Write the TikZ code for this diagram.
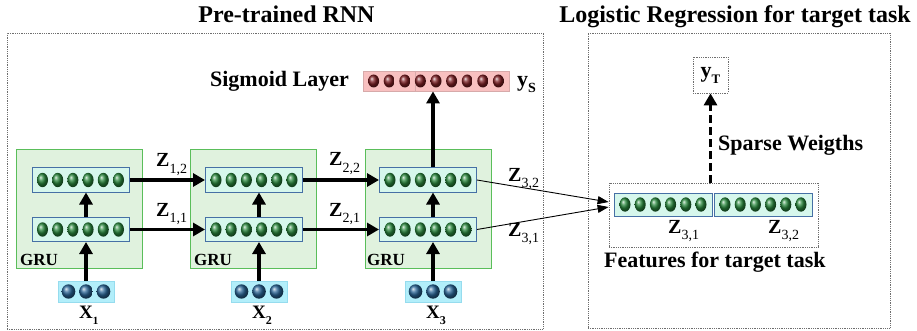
\documentclass[tikz,border=0pt]{standalone}
\usepackage{fontspec}
\setmainfont{Liberation Serif}
\usetikzlibrary{arrows.meta,calc}
\definecolor{grufill}{RGB}{224,242,222}
\definecolor{grudraw}{RGB}{90,190,90}
\definecolor{layfill}{RGB}{214,247,236}
\definecolor{laydraw}{RGB}{70,112,165}
\definecolor{infill}{RGB}{178,238,250}
\definecolor{indraw}{RGB}{150,220,238}
\definecolor{sigfill}{RGB}{248,192,192}
\definecolor{sigdraw}{RGB}{215,170,170}
\definecolor{gball}{RGB}{40,135,60}
\definecolor{bball}{RGB}{40,100,150}
\definecolor{rball}{RGB}{125,30,35}
\definecolor{dotgray}{RGB}{110,110,110}
\newcommand\mysub[3]{#1\raisebox{-6pt}{\fontsize{#3}{#3}\selectfont #2}}
\newcommand\myzsub[2]{#1\raisebox{-6pt}{\fontsize{14}{14}\selectfont\mdseries #2}}
\newcommand\ballrow[6]{%
  \foreach \k in {1,...,#2}{%
    \shade[ball color=#4] ($(#1.center)+({(\k-(#2+1)/2)*#3},0)$) ellipse[x radius=#5, y radius=#6];}}
\begin{document}
\begin{tikzpicture}[x=1pt,y=-1pt,
  font=\fontsize{22}{26}\selectfont\bfseries,
  outer/.style={draw=dotgray, densely dotted, line width=0.8pt, inner sep=0pt},
  grubox/.style={draw=grudraw, fill=grufill, line width=1pt, minimum width=126pt, minimum height=118pt, inner sep=0pt},
  layerbox/.style={draw=laydraw, fill=layfill, line width=1pt, minimum width=97pt, minimum height=24pt, inner sep=0pt},
  inbox/.style={draw=indraw, fill=infill, line width=0.8pt, minimum width=56pt, minimum height=21pt, inner sep=0pt},
  sigbox/.style={draw=sigdraw, fill=sigfill, line width=0.8pt, minimum width=146pt, minimum height=20pt, inner sep=0pt},
  bigarrow/.style={line width=3.5pt, -{Triangle[length=12pt,width=13pt]}},
  thinarrow/.style={line width=0.9pt, -{Triangle[length=11pt,width=8pt]}},
  dasharrow/.style={line width=3.5pt, dash pattern=on 8pt off 4pt, -{Triangle[length=12pt,width=13pt]}},
  zlbl/.style={anchor=base west, inner sep=0pt, font=\fontsize{20}{24}\selectfont\bfseries},
  txt/.style={inner sep=0pt}
]
\useasboundingbox (0,0) rectangle (917,331);

% outer boxes and titles
\node[outer, minimum width=536pt, minimum height=296pt] (lbox) at (275,181) {};
\node[outer, minimum width=302pt, minimum height=295pt] (rbox) at (739,180.5) {};
\node[txt, anchor=base, font=\fontsize{24}{28}\selectfont\bfseries] (t1) at (286.5,23) {Pre-trained RNN};
\node[txt, anchor=base, font=\fontsize{24}{28}\selectfont\bfseries] (t2) at (735,23) {Logistic Regression for target task};

% GRU boxes
\node[grubox] (g1) at (79.5,209) {};
\node[grubox] (g2) at (253,209) {};
\node[grubox] (g3) at (428.5,209) {};
\foreach \g/\x in {g1/20,g2/194,g3/367}{
  \node[txt, anchor=base west, font=\fontsize{17}{20}\selectfont\bfseries] (lab\g) at (\x,265) {GRU};
}

% layers
\node[layerbox] (u1) at (80.5,180) {};
\node[layerbox] (l1) at (80.5,229.5) {};
\node[layerbox] (u2) at (254,180) {};
\node[layerbox] (l2) at (254,229.5) {};
\node[layerbox] (u3) at (428,180) {};
\node[layerbox] (l3) at (428,229.5) {};
\foreach \n in {u1,l1,u2,l2,u3,l3}{\ballrow{\n}{6}{15.2}{gball}{5.5pt}{7.2pt}}

% inputs
\node[inbox] (in1) at (86,291.5) {};
\node[inbox] (in2) at (259,291.5) {};
\node[inbox] (in3) at (433,291.5) {};
\foreach \n in {in1,in2,in3}{\ballrow{\n}{3}{17.5}{bball}{6.8pt}{7.2pt}}
\node[zlbl, font=\fontsize{19}{22}\selectfont\bfseries] (x1) at (79,318) {\mysub{X}{1}{11}};
\node[zlbl, font=\fontsize{19}{22}\selectfont\bfseries] (x2) at (252,318) {\mysub{X}{2}{12}};
\node[zlbl, font=\fontsize{19}{22}\selectfont\bfseries] (x3) at (426,318) {\mysub{X}{3}{12}};

% sigmoid
\node[sigbox] (sig) at (436,81) {};
\draw[sigdraw, line width=0.8pt] (415,71) -- (415,91);
\ballrow{sig}{9}{15.6}{rball}{5.5pt}{6.5pt}
\node[txt, anchor=base east] (siglab) at (349,87) {Sigmoid Layer};
\node[txt, anchor=base west] (ys) at (517,87) {\mysub{y}{S}{14}};

% vertical arrows
\foreach \i in {1,2,3}{
  \draw[bigarrow] (in\i.north) -- (in\i.north |- l\i.south);
  \draw[bigarrow] (in\i.north |- l\i.north) -- (in\i.north |- u\i.south);
}
\draw[bigarrow] (in3.north |- u3.north) -- (in3.north |- sig.south);

% horizontal arrows
\draw[bigarrow] (u1.east) -- (u2.west);
\draw[bigarrow] (l1.east) -- (l2.west);
\draw[bigarrow] (u2.east) -- (u3.west);
\draw[bigarrow] (l2.east) -- (l3.west);
\node[zlbl] (z12) at (156,167) {\myzsub{Z}{1,2}};
\node[zlbl] (z11) at (156,216) {\myzsub{Z}{1,1}};
\node[zlbl] (z22) at (329,166) {\myzsub{Z}{2,2}};
\node[zlbl] (z21) at (329,216) {\myzsub{Z}{2,1}};
\node[zlbl] (z32) at (508,181) {\myzsub{Z}{3,2}};
\node[zlbl] (z31) at (508,236) {\myzsub{Z}{3,1}};

% features
\node[outer, minimum width=209pt, minimum height=64pt] (feat) at (713.5,215) {};
\node[layerbox, minimum width=98pt, minimum height=23pt] (f1) at (663,204.5) {};
\node[layerbox, minimum width=98pt, minimum height=23pt] (f2) at (763,204.5) {};
\foreach \n in {f1,f2}{\ballrow{\n}{6}{15.2}{gball}{5.5pt}{7.2pt}}
\node[zlbl] (fz1) at (668,233) {\myzsub{Z}{3,1}};
\node[zlbl] (fz2) at (768,233) {\myzsub{Z}{3,2}};
\node[txt, anchor=base west] (featlab) at (604,267) {Features for target task};

\draw[thinarrow] (u3.east) -- ([yshift=13pt]feat.west);
\draw[thinarrow] (l3.east) -- ([yshift=8pt]feat.west);

% target
\node[outer, minimum width=35pt, minimum height=36pt] (yt) at (710.5,75) {\mysub{y}{T}{13}};
\draw[dasharrow] (feat.north -| yt) -- (yt.south);
\node[txt, anchor=base west] (sw) at (718,151) {Sparse Weigths};
\end{tikzpicture}
\end{document}
